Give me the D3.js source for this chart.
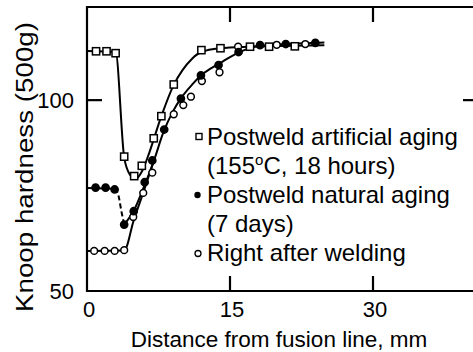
<!DOCTYPE html>
<html lang="en">
<head>
  <script src="https://d3js.org/d3.v7.min.js"></script>
  <style>
    body { margin: 0; background: #fff; }
    svg text { font-family: "Liberation Sans", Arial, sans-serif; fill: #000; }
  </style>
</head>
<body>
<script>
  // measured points
  var artX = [0.95, 2.05, 3.0, 3.9, 4.95, 5.75, 7.0, 7.8, 9.1, 12.0, 14.0, 17.1, 19.1, 21.8];
  var artY = [112.8, 112.8, 112.3, 85.2, 80.1, 82.8, 90.0, 95.8, 104.1, 113.1, 113.6, 114.0, 114.0, 114.1];
  var natX = [0.9, 1.95, 2.9, 3.9, 4.9, 6.05, 6.85, 8.1, 9.85, 11.95, 13.8, 15.9, 18.15, 20.85, 23.95];
  var natY = [77.1, 77.1, 76.6, 67.4, 70.9, 78.5, 84.2, 92.3, 100.4, 106.5, 109.2, 112.6, 114.4, 114.7, 115.0];
  var rawX = [0.75, 1.85, 2.9, 3.9, 4.85, 5.9, 6.85, 9.1, 10.1, 10.9, 12.05, 13.9, 15.85, 19.9, 22.9];
  var rawY = [60.5, 60.5, 60.5, 60.7, 69.4, 75.7, 81.0, 96.3, 98.7, 100.9, 105.0, 107.3, 114.0, 114.5, 114.7];

  // hand drawn trend curves
  var artFitX = [0, 3.0, 3.9, 4.5, 5.1, 5.8, 6.5, 7.8, 9.1, 10, 11, 12, 14, 17, 20, 24.9];
  var artFitY = [112.9, 112.6, 85, 80.5, 79.4, 81.5, 86, 95.8, 104, 107.8, 110.8, 112.6, 113.6, 114, 114.2, 114.4];
  var natFlatX = [0, 2.9];
  var natFlatY = [77.0, 76.8];
  var natDashX = [2.9, 3.3, 3.6, 3.9];
  var natDashY = [76.8, 75, 71, 67.4];
  var natFitX = [3.9, 4.9, 6, 7, 8, 9, 10, 11, 12, 13, 14, 15, 16, 18, 21, 24.9];
  var natFitY = [67.4, 71, 77.5, 84, 91.5, 97, 101, 104, 106.6, 108.3, 109.8, 111.3, 112.6, 114.2, 114.7, 115.1];
  var rawFitX = [0, 3.9, 4.9, 6, 7];
  var rawFitY = [60.5, 60.6, 68.5, 76.5, 84];

  var xTicks = [0, 15, 30];
  var yTicks = [50, 100];
  var legendRows = ["Postweld artificial aging", "(155", "Postweld natural aging", "(7 days)", "Right after welding"];

  var W = 473, H = 352;
  var svg = d3.select("body").append("svg").attr("width", W).attr("height", H);

  var x = d3.scaleLinear().domain([0, 42]).range([87, 487.4]);
  var y = d3.scaleLinear().domain([50, 124.4]).range([291, 7]);

  var zip = function(a, b) { return a.map(function(v, i) { return [v, b[i]]; }); };
  var line = d3.line().x(function(d) { return x(d[0]); }).y(function(d) { return y(d[1]); })
    .curve(d3.curveMonotoneX);

  // frame (open on the right, cut by the window)
  var frame = svg.append("g").attr("stroke", "#000").attr("stroke-width", 2.2).attr("fill", "none");
  frame.append("path").attr("d", "M" + x(42) + "," + y(124.4) + "H" + x(0) + "V" + y(50) + "H" + x(42));

  // ticks pointing inward
  xTicks.slice(1).forEach(function(t) {
    frame.append("line").attr("x1", x(t)).attr("x2", x(t)).attr("y1", y(50)).attr("y2", y(50) - 15);
    frame.append("line").attr("x1", x(t)).attr("x2", x(t)).attr("y1", y(124.4)).attr("y2", y(124.4) + 15);
  });
  frame.append("line").attr("x1", x(0)).attr("x2", x(0) + 15).attr("y1", y(100)).attr("y2", y(100));
  frame.append("line").attr("x1", 463).attr("x2", W).attr("y1", y(100)).attr("y2", y(100));

  svg.selectAll(".xl").data(xTicks).enter().append("text")
    .attr("x", function(d) { return x(d) + 2; }).attr("y", 317)
    .attr("text-anchor", "middle").attr("font-size", 22).text(function(d) { return d; });
  svg.selectAll(".yl").data(yTicks).enter().append("text")
    .attr("x", 74).attr("y", function(d) { return y(d); }).attr("dy", "0.36em")
    .attr("text-anchor", "end").attr("font-size", 22).text(function(d) { return d; });

  svg.append("text").attr("x", 279).attr("y", 347).attr("text-anchor", "middle")
    .attr("font-size", 22.5).text("Distance from fusion line, mm");
  svg.append("text").attr("transform", "translate(33,167) rotate(-90)").attr("text-anchor", "middle")
    .attr("font-size", 23).attr("textLength", 290).attr("lengthAdjust", "spacingAndGlyphs")
    .text("Knoop hardness (500g)");

  // curves
  var curves = svg.append("g").attr("fill", "none").attr("stroke", "#000").attr("stroke-width", 2);
  curves.append("path").attr("d", line(zip(artFitX, artFitY)));
  curves.append("path").attr("d", line(zip(natFlatX, natFlatY)));
  curves.append("path").attr("d", line(zip(natDashX, natDashY))).attr("stroke-dasharray", "5,3");
  curves.append("path").attr("d", line(zip(natFitX, natFitY)));
  curves.append("path").attr("d", line(zip(rawFitX, rawFitY)));

  // markers
  var mk = svg.append("g").attr("stroke", "#000").attr("stroke-width", 1.5);
  mk.selectAll(".raw").data(zip(rawX, rawY)).enter().append("circle")
    .attr("cx", function(d) { return x(d[0]); }).attr("cy", function(d) { return y(d[1]); })
    .attr("r", 3.4).attr("fill", "#fff");
  mk.selectAll(".nat").data(zip(natX, natY)).enter().append("circle")
    .attr("cx", function(d) { return x(d[0]); }).attr("cy", function(d) { return y(d[1]); })
    .attr("r", 3.6).attr("fill", "#000");
  mk.selectAll(".art").data(zip(artX, artY)).enter().append("rect")
    .attr("x", function(d) { return x(d[0]) - 3.6; }).attr("y", function(d) { return y(d[1]) - 3.6; })
    .attr("width", 7.2).attr("height", 7.2).attr("fill", "#fff");

  // legend
  var lg = svg.append("g");
  var rowY = [145, 174, 203, 232, 261];
  legendRows.forEach(function(r, i) {
    var t = lg.append("text").attr("x", 207).attr("y", rowY[i]).attr("font-size", 24).text(r);
    if (i == 1) {
      t.append("tspan").attr("font-size", 15).attr("dy", -9).text("o");
      t.append("tspan").attr("dy", 9).text("C, 18 hours)");
    }
  });
  lg.append("rect").attr("x", 196).attr("y", 133.5).attr("width", 6).attr("height", 6)
    .attr("fill", "#fff").attr("stroke", "#000").attr("stroke-width", 1.4);
  lg.append("circle").attr("cx", 197.5).attr("cy", 195).attr("r", 3.2).attr("fill", "#000");
  lg.append("circle").attr("cx", 198).attr("cy", 253.5).attr("r", 3).attr("fill", "#fff")
    .attr("stroke", "#000").attr("stroke-width", 1.3);
</script>
</body>
</html>
